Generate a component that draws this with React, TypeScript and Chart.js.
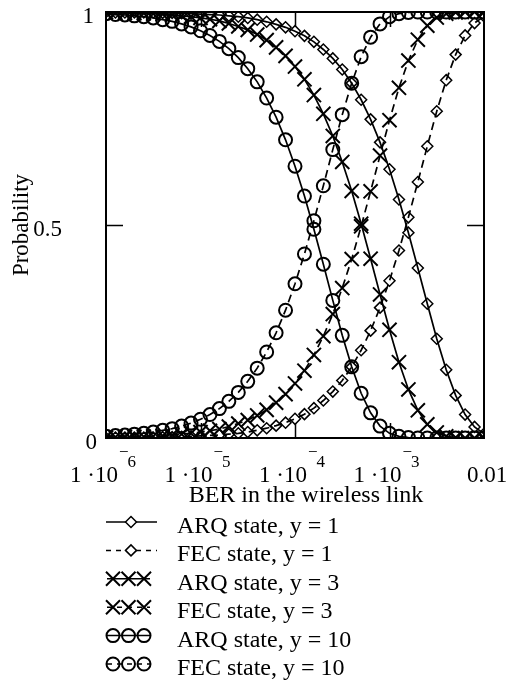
import React, { useEffect, useRef } from "react";
import { Chart, registerables } from "chart.js";

Chart.register(...registerables);

// BER values (x axis, log scale)
const BER = [
  1e-6, 1.259e-6, 1.585e-6, 1.995e-6, 2.512e-6, 3.162e-6, 3.981e-6, 5.012e-6, 6.31e-6, 7.943e-6,
  1e-5, 1.259e-5, 1.585e-5, 1.995e-5, 2.512e-5, 3.162e-5, 3.981e-5, 5.012e-5, 6.31e-5, 7.943e-5,
  1e-4, 1.259e-4, 1.585e-4, 1.995e-4, 2.512e-4, 3.162e-4, 3.981e-4, 5.012e-4, 6.31e-4, 7.943e-4,
  1e-3, 1.259e-3, 1.585e-3, 1.995e-3, 2.512e-3, 3.162e-3, 3.981e-3, 5.012e-3, 6.31e-3, 7.943e-3,
  1e-2,
];

const ARQ_Y1 = [
  1.0, 0.999, 0.999, 0.999, 0.999, 0.999, 0.998, 0.998, 0.997, 0.996,
  0.995, 0.994, 0.993, 0.991, 0.989, 0.986, 0.982, 0.977, 0.971, 0.964,
  0.955, 0.944, 0.93, 0.912, 0.891, 0.865, 0.833, 0.794, 0.748, 0.694,
  0.631, 0.56, 0.482, 0.399, 0.315, 0.233, 0.16, 0.1, 0.055, 0.026,
  0.01,
];
const FEC_Y1 = [
  0.0, 0.001, 0.001, 0.001, 0.001, 0.001, 0.002, 0.002, 0.003, 0.004,
  0.005, 0.006, 0.007, 0.009, 0.011, 0.014, 0.018, 0.023, 0.029, 0.036,
  0.045, 0.056, 0.07, 0.088, 0.109, 0.135, 0.167, 0.206, 0.252, 0.306,
  0.369, 0.44, 0.518, 0.601, 0.685, 0.767, 0.84, 0.9, 0.945, 0.974,
  0.99,
];
const ARQ_Y3 = [
  0.999, 0.998, 0.998, 0.997, 0.997, 0.996, 0.995, 0.993, 0.991, 0.989,
  0.986, 0.983, 0.979, 0.973, 0.966, 0.958, 0.947, 0.934, 0.917, 0.897,
  0.872, 0.842, 0.805, 0.761, 0.709, 0.648, 0.58, 0.503, 0.421, 0.337,
  0.254, 0.178, 0.114, 0.065, 0.032, 0.013, 0.004, 0.001, 0.0, 0.0,
  0.0,
];
const FEC_Y3 = [
  0.001, 0.002, 0.002, 0.003, 0.003, 0.004, 0.005, 0.007, 0.009, 0.011,
  0.014, 0.017, 0.021, 0.027, 0.034, 0.042, 0.053, 0.066, 0.083, 0.103,
  0.128, 0.158, 0.195, 0.239, 0.291, 0.352, 0.42, 0.497, 0.579, 0.663,
  0.746, 0.822, 0.886, 0.935, 0.968, 0.987, 0.996, 0.999, 1.0, 1.0,
  1.0,
];
const ARQ_Y10 = [
  0.996, 0.994, 0.993, 0.991, 0.989, 0.986, 0.982, 0.978, 0.972, 0.965,
  0.956, 0.945, 0.931, 0.914, 0.893, 0.867, 0.836, 0.798, 0.753, 0.7,
  0.638, 0.568, 0.49, 0.408, 0.323, 0.241, 0.167, 0.105, 0.059, 0.028,
  0.011, 0.004, 0.001, 0.0, 0.0, 0.0, 0.0, 0.0, 0.0, 0.0,
  0.0,
];
const FEC_Y10 = [
  0.004, 0.006, 0.007, 0.009, 0.011, 0.014, 0.018, 0.022, 0.028, 0.035,
  0.044, 0.055, 0.069, 0.086, 0.107, 0.133, 0.164, 0.202, 0.247, 0.3,
  0.362, 0.432, 0.51, 0.592, 0.677, 0.759, 0.833, 0.895, 0.941, 0.972,
  0.989, 0.996, 0.999, 1.0, 1.0, 1.0, 1.0, 1.0, 1.0, 1.0,
  1.0,
];

const SERIES_LABELS = [
  "ARQ state, y = 1",
  "FEC state, y = 1",
  "ARQ state, y = 3",
  "FEC state, y = 3",
  "ARQ state, y = 10",
  "FEC state, y = 10",
];

const X_TICK_VALUES = [1e-6, 1e-5, 1e-4, 1e-3, 1e-2];
const X_TICK_MANTISSA = ["1 ·10", "1 ·10", "1 ·10", "1 ·10", "0.01"];
const X_TICK_EXPONENT = ["6", "5", "4", "3", ""];
const X_INNER_TICKS = [1e-5, 1e-4, 1e-3];
const Y_TICK_VALUES = [0, 0.5, 1];
const Y_TICK_LABELS = ["0", "0.5", "1"];
const Y_INNER_TICKS = [0.5];
const X_TITLE = "BER in the wireless link";
const Y_TITLE = "Probability";

const SERIF = '"Liberation Serif", "Times New Roman", serif';

type Sym = "rectRot" | "crossRot" | "circle";

function drawSym(ctx: CanvasRenderingContext2D, sym: Sym, x: number, y: number) {
  ctx.save();
  ctx.setLineDash([]);
  ctx.beginPath();
  if (sym === "rectRot") {
    const r = 5.5;
    ctx.moveTo(x - r, y);
    ctx.lineTo(x, y - r);
    ctx.lineTo(x + r, y);
    ctx.lineTo(x, y + r);
    ctx.closePath();
    ctx.fillStyle = "#fff";
    ctx.fill();
    ctx.lineWidth = 1.5;
    ctx.stroke();
  } else if (sym === "crossRot") {
    const r = 7;
    ctx.moveTo(x - r, y - r);
    ctx.lineTo(x + r, y + r);
    ctx.moveTo(x + r, y - r);
    ctx.lineTo(x - r, y + r);
    ctx.lineWidth = 2;
    ctx.stroke();
  } else {
    ctx.arc(x, y, 6.5, 0, Math.PI * 2);
    ctx.lineWidth = 2;
    ctx.stroke();
  }
  ctx.restore();
}

const framePlugin = {
  id: "mathcadFrame",
  afterDraw(chart: any) {
    const { ctx, chartArea: a, scales } = chart;
    const xs = scales.x;
    const ys = scales.y;
    ctx.save();
    ctx.strokeStyle = "#000";
    ctx.fillStyle = "#000";
    ctx.setLineDash([]);
    ctx.lineWidth = 2;
    ctx.strokeRect(a.left, a.top, a.right - a.left, a.bottom - a.top);

    // inner ticks
    ctx.lineWidth = 1.5;
    ctx.beginPath();
    X_INNER_TICKS.forEach((v) => {
      const px = Math.round(xs.getPixelForValue(v)) + 0.5;
      ctx.moveTo(px, a.bottom);
      ctx.lineTo(px, a.bottom - 15);
      ctx.moveTo(px, a.top);
      ctx.lineTo(px, a.top + 15);
    });
    Y_INNER_TICKS.forEach((v) => {
      const py = Math.round(ys.getPixelForValue(v)) + 0.5;
      ctx.moveTo(a.left, py);
      ctx.lineTo(a.left + 17, py);
      ctx.moveTo(a.right, py);
      ctx.lineTo(a.right - 17, py);
    });
    ctx.stroke();

    // y tick labels
    const yRight = [97, 62, 94];
    ctx.font = `23px ${SERIF}`;
    ctx.textAlign = "right";
    ctx.textBaseline = "middle";
    Y_TICK_VALUES.forEach((v, i) => {
      const py = ys.getPixelForValue(v);
      ctx.fillText(Y_TICK_LABELS[i], yRight[i], py + 5);
    });

    // x tick labels
    ctx.textBaseline = "alphabetic";
    ctx.textAlign = "left";
    const base = 482;
    X_TICK_VALUES.forEach((v, i) => {
      const px = xs.getPixelForValue(v);
      const mant = X_TICK_MANTISSA[i];
      const exp = X_TICK_EXPONENT[i];
      ctx.font = `23px ${SERIF}`;
      const wm = ctx.measureText(mant).width;
      if (exp) {
        ctx.font = `17px ${SERIF}`;
        const wMinus = ctx.measureText("\u2212").width;
        const wExp = ctx.measureText(exp).width;
        const total = wm + wMinus + wExp;
        const start = px - 3 - total / 2;
        ctx.font = `23px ${SERIF}`;
        ctx.fillText(mant, start, base);
        ctx.font = `17px ${SERIF}`;
        ctx.fillText("\u2212", start + wm + 1, base - 25);
        ctx.fillText(exp, start + wm + wMinus, base - 15);
      } else {
        ctx.fillText(mant, px + 3 - wm / 2, base);
      }
    });

    // axis titles
    ctx.font = `24px ${SERIF}`;
    ctx.textAlign = "center";
    ctx.fillText(X_TITLE, (a.left + a.right) / 2 + 11, 502);
    ctx.font = `23px ${SERIF}`;
    ctx.save();
    ctx.translate(22, 225);
    ctx.rotate(-Math.PI / 2);
    ctx.textBaseline = "middle";
    ctx.fillText(Y_TITLE, 0, 0);
    ctx.restore();

    // legend
    const syms: Sym[] = ["rectRot", "rectRot", "crossRot", "crossRot", "circle", "circle"];
    SERIES_LABELS.forEach((lab, i) => {
      const bl = 533 + i * 28.4;
      const yc = bl - 11;
      const dashed = i % 2 === 1;
      ctx.save();
      ctx.lineWidth = 1.5;
      ctx.setLineDash(dashed ? [5, 5] : []);
      ctx.beginPath();
      if (syms[i] === "rectRot") {
        ctx.moveTo(106, yc);
        ctx.lineTo(157, yc);
      } else {
        ctx.moveTo(107, yc);
        ctx.lineTo(150, yc);
      }
      ctx.stroke();
      ctx.restore();
      if (syms[i] === "rectRot") {
        drawSym(ctx, "rectRot", 131, yc);
      } else {
        [113, 128.5, 144].forEach((cx) => drawSym(ctx, syms[i], cx, yc));
      }
      ctx.font = `24px ${SERIF}`;
      ctx.textAlign = "left";
      ctx.textBaseline = "alphabetic";
      ctx.fillText(lab, 177, bl);
    });
    ctx.restore();
  },
};

function series(label: string, vals: number[], sym: Sym, dashed: boolean) {
  const radius = sym === "circle" ? 6.5 : sym === "crossRot" ? 10 : 5.5;
  const pw = sym === "rectRot" ? 1.5 : 2;
  return {
    label,
    data: BER.map((b, i) => ({ x: b, y: vals[i] })),
    borderColor: "#000",
    borderWidth: 1.7,
    borderDash: dashed ? [8, 5] : [],
    pointStyle: sym,
    pointRadius: radius,
    pointBorderWidth: pw,
    pointBorderColor: "#000",
    pointBackgroundColor: "rgba(0,0,0,0)",
    fill: false,
    tension: 0,
  };
}

export default function App() {
  const ref = useRef<HTMLCanvasElement | null>(null);
  useEffect(() => {
    if (!ref.current) return;
    const chart = new Chart(ref.current, {
      type: "line",
      data: {
        datasets: [
          series(SERIES_LABELS[0], ARQ_Y1, "rectRot", false),
          series(SERIES_LABELS[1], FEC_Y1, "rectRot", true),
          series(SERIES_LABELS[2], ARQ_Y3, "crossRot", false),
          series(SERIES_LABELS[3], FEC_Y3, "crossRot", true),
          series(SERIES_LABELS[4], ARQ_Y10, "circle", false),
          series(SERIES_LABELS[5], FEC_Y10, "circle", true),
        ] as any,
      },
      options: {
        responsive: false,
        animation: false,
        devicePixelRatio: 1,
        layout: { padding: { left: 106, right: 29, top: 7, bottom: 252 } },
        scales: {
          x: { type: "logarithmic", min: 1e-6, max: 1e-2, display: false },
          y: { type: "linear", min: 0, max: 1, display: false },
        },
        plugins: { legend: { display: false }, tooltip: { enabled: false } },
      },
      plugins: [framePlugin],
    });
    return () => chart.destroy();
  }, []);
  return (
    <div style={{ position: "absolute", left: 0, top: 0, width: 513, height: 690, background: "#fff" }}>
      <canvas ref={ref} width={513} height={690} style={{ width: 513, height: 690, display: "block" }} />
    </div>
  );
}
